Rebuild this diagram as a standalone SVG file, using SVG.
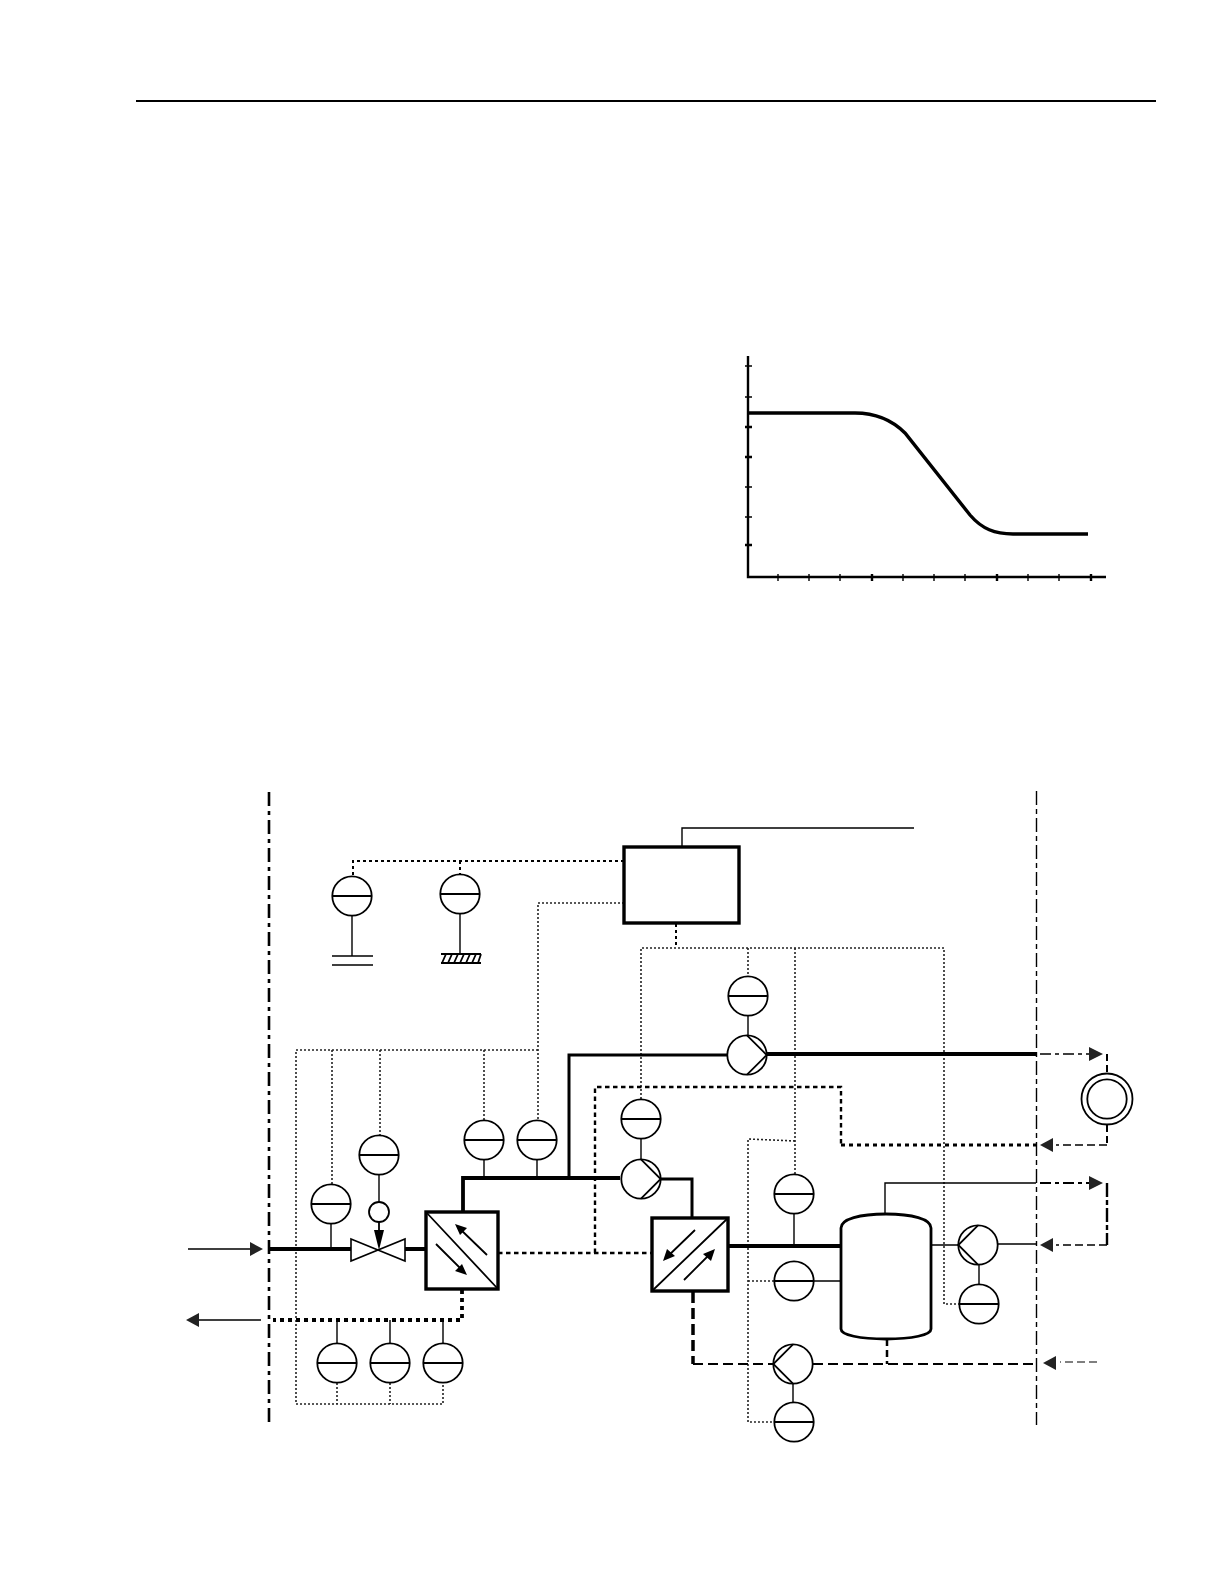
<svg xmlns="http://www.w3.org/2000/svg" xmlns:xlink="http://www.w3.org/1999/xlink" width="1224" height="1584" viewBox="0 0 1224 1584">
<style>
.o{fill:none;stroke:#000;stroke-linejoin:miter}
.t{stroke-width:1.4}.m{stroke-width:1.8}.h{stroke-width:3}.k{stroke-width:3.8}
.dot{fill:none;stroke:#222;stroke-width:1.6;stroke-dasharray:2 2}
.dot2{fill:none;stroke:#000;stroke-width:2;stroke-dasharray:3 3}
.fd{fill:none;stroke:#000;stroke-width:2.4;stroke-dasharray:4.5 3.5}
.fd3{fill:none;stroke:#000;stroke-width:3.2;stroke-dasharray:4 4}
.ld{fill:none;stroke:#000;stroke-width:2.2;stroke-dasharray:10 5}
.c{fill:#fff;stroke:#000;stroke-width:1.8}
.l{fill:none;stroke:#000;stroke-width:1.8}
.ah{fill:#222}
.ar{fill:#000}
</style>
<defs>
<g id="i"><circle class="c" r="19.7"/><line class="l" x1="-19.7" x2="19.7" y1="0" y2="0"/></g>
<g id="pr"><circle class="c" r="19.7"/><path class="l" d="M0-19.7L19.7 0L0 19.7"/></g>
<g id="pl"><circle class="c" r="19.7"/><path class="l" d="M0-19.7L-19.7 0L0 19.7"/></g>
</defs>

<g id="page-rule"><line class="o" x1="136" y1="101" x2="1156" y2="101" stroke-width="2"/></g>

<g id="chart">
<path class="o" stroke-width="2.4" d="M748 356V577H1106"/>
<path class="o" stroke-width="1.4" d="M745 366h7M745 397h7M745 487h7M745 517h7M778 574v7M809 574v7M840 574v7M903 574v7M934 574v7M965 574v7M1028 574v7M1059 574v7"/>
<path class="o" stroke-width="2.4" d="M745 427h7M745 457h7M745 545h7M872 574v7M997 574v7M1091 574v7"/>
<path class="o" stroke-width="3.4" d="M748 413H855C875 413 892 420 905 433L970 515C982 529 995 534 1013 534H1088"/>
</g>

<g id="connectors">
<line x1="269" y1="792" x2="269" y2="1425" fill="none" stroke="#000" stroke-width="2.6" stroke-dasharray="14 5 4 5"/>
<line x1="1036.500" y1="791" x2="1036.500" y2="1425" fill="none" stroke="#000" stroke-width="1.4" stroke-dasharray="14 4 5 4"/>
<path class="dot2" d="M624 861H353V876M460 861V874"/>
<path class="dot" d="M624 903H538V1120M538 1050H296V1404H443V1383M332 1050V1184M380 1050V1135M484 1050V1120M337 1383V1404M390 1383V1404"/>
<path class="dot2" d="M676 924V948"/>
<path class="dot" d="M641 1099V948H944V1304H959M748 948V976M795 948V1174M795 1141L748 1139V1422H774M748 1281H774"/>
<path class="o k" d="M269 1249H351M405 1249H426"/>
<path class="o k" d="M463 1212V1178H620"/>
<path class="o h" d="M660 1179H692V1218"/>
<path class="o h" d="M569 1178V1055H727"/>
<path class="o k" d="M767 1054H1036"/>
<path class="o k" d="M728 1246H841"/>
<path class="fd3" style="stroke-width:3.800" d="M462 1290V1320H273"/>
<path class="fd" d="M498 1253H652M595 1253V1087H841V1145"/>
<path class="fd3" d="M841 1145H1036"/>
<path class="o" stroke-width="3.500" stroke-dasharray="11 5" d="M693 1292V1364"/>
<path class="ld" d="M693 1364H773M813 1364H1036"/>
<path class="o" stroke-width="2.500" stroke-dasharray="7 4" d="M887 1339V1364"/>
<path class="o t" d="M885 1214V1183H1036M931 1245H958M998 1244H1036M794 1246V1214M814 1281H841"/>
<path class="o t" d="M682 847V828H914"/>
<path class="o t" d="M331 1224V1249M379 1175V1202M484 1160V1178M537 1160V1178M641 1139V1159M748 1016V1036M979 1265V1284M793 1384V1402M352 916V956M460 914V954M337 1320V1343M390 1320V1343M443 1320V1343"/>
<path class="o t" d="M188 1249H250M199 1320H261"/>
<path class="ah" d="M263 1249L250 1242V1256ZM186 1320L199 1313V1327Z"/>
<path class="o" stroke-width="1.400" stroke-dasharray="11 4 4 4" d="M1040 1054H1090"/>
<path class="ah" d="M1103 1054L1089 1047V1061Z"/>
<path class="o" stroke-width="2" stroke-dasharray="7 4" d="M1107 1054V1073M1107 1125V1145"/>
<path class="o" stroke-width="1.400" stroke-dasharray="8 4" d="M1107 1145H1056"/>
<path class="ah" d="M1040 1145L1053 1138V1152Z"/>
<path class="o" stroke-width="2.200" stroke-dasharray="11 4 4 4" d="M1040 1183H1090"/>
<path class="ah" d="M1103 1183L1089 1176V1190Z"/>
<path class="o" stroke-width="2.400" stroke-dasharray="14 3 5 3" d="M1107 1183V1245"/>
<path class="o" stroke-width="1.400" stroke-dasharray="8 4" d="M1107 1245H1056"/>
<path class="ah" d="M1040 1245L1053 1238V1252Z"/>
<path class="o" stroke-width="1.200" stroke-dasharray="8 4" d="M1097 1362H1060"/>
<path class="ah" d="M1043 1363L1056 1356V1370Z"/>
</g>

<g id="instruments">
<use id="i-cap" href="#i" x="352" y="896"/>
<use id="i-gnd" href="#i" x="460" y="894"/>
<use id="i-a" href="#i" x="331" y="1204"/>
<use id="i-b" href="#i" x="379" y="1155"/>
<use id="i-c" href="#i" x="484" y="1140"/>
<use id="i-d" href="#i" x="537" y="1140"/>
<use id="i-e" href="#i" x="641" y="1119"/>
<use id="i-f" href="#i" x="748" y="996"/>
<use id="i-g" href="#i" x="794" y="1194"/>
<use id="i-h" href="#i" x="794" y="1281"/>
<use id="i-j" href="#i" x="979" y="1304"/>
<use id="i-k" href="#i" x="794" y="1422"/>
<use id="i-l" href="#i" x="337" y="1363"/>
<use id="i-m" href="#i" x="390" y="1363"/>
<use id="i-n" href="#i" x="443" y="1363"/>
</g>

<g id="pumps">
<use id="pump-top" href="#pr" x="747" y="1055"/>
<use id="pump-mid" href="#pr" x="641" y="1179"/>
<use id="pump-right" href="#pl" x="978" y="1245"/>
<use id="pump-low" href="#pl" x="793" y="1364"/>
</g>

<g id="capacitor"><path class="o t" d="M332 956H373M332 965H373"/></g>
<g id="ground"><path class="o m" d="M441 954H481M441 963H481M446 954L442 963M452 954L448 963M458 954L454 963M464 954L460 963M470 954L466 963M476 954L472 963M481 954L478 963"/></g>

<g id="valve">
<path d="M351 1239L405 1261V1239L351 1261Z" fill="#fff" stroke="#000" stroke-width="1.600"/>
<circle class="c" cx="379" cy="1212" r="10"/>
<line class="o m" x1="379" y1="1222" x2="379" y2="1232"/>
<path class="ar" d="M379 1250L374 1230H384Z"/>
</g>

<g id="hx1">
<rect x="426" y="1212" width="72" height="77" fill="#fff" stroke="#000" stroke-width="3.400"/>
<path class="o m" d="M426 1212L498 1289M487 1255L458 1227M436 1244L464 1272"/>
<path class="ar" d="M455 1224L467 1228L460 1235ZM467 1275L455 1271L462 1264Z"/>
</g>

<g id="hx2">
<rect x="652" y="1218" width="76" height="73" fill="#fff" stroke="#000" stroke-width="3.400"/>
<path class="o m" d="M652 1291L728 1218M695 1230L666 1258M684 1280L712 1252"/>
<path class="ar" d="M663 1261L667 1249L675 1256ZM715 1249L711 1261L703 1254Z"/>
</g>

<g id="vessel"><path d="M841 1228C841 1219 860 1214 886 1214C912 1214 931 1219 931 1228V1329C931 1335 912 1339 886 1339C860 1339 841 1335 841 1329Z" fill="#fff" stroke="#000" stroke-width="2.800"/></g>

<g id="controller"><rect x="624" y="847" width="115" height="76" fill="#fff" stroke="#000" stroke-width="3.400"/></g>

<g id="load"><circle class="c" cx="1107" cy="1099" r="25.500"/><circle class="c" cx="1107" cy="1099" r="19.700"/></g>
</svg>
